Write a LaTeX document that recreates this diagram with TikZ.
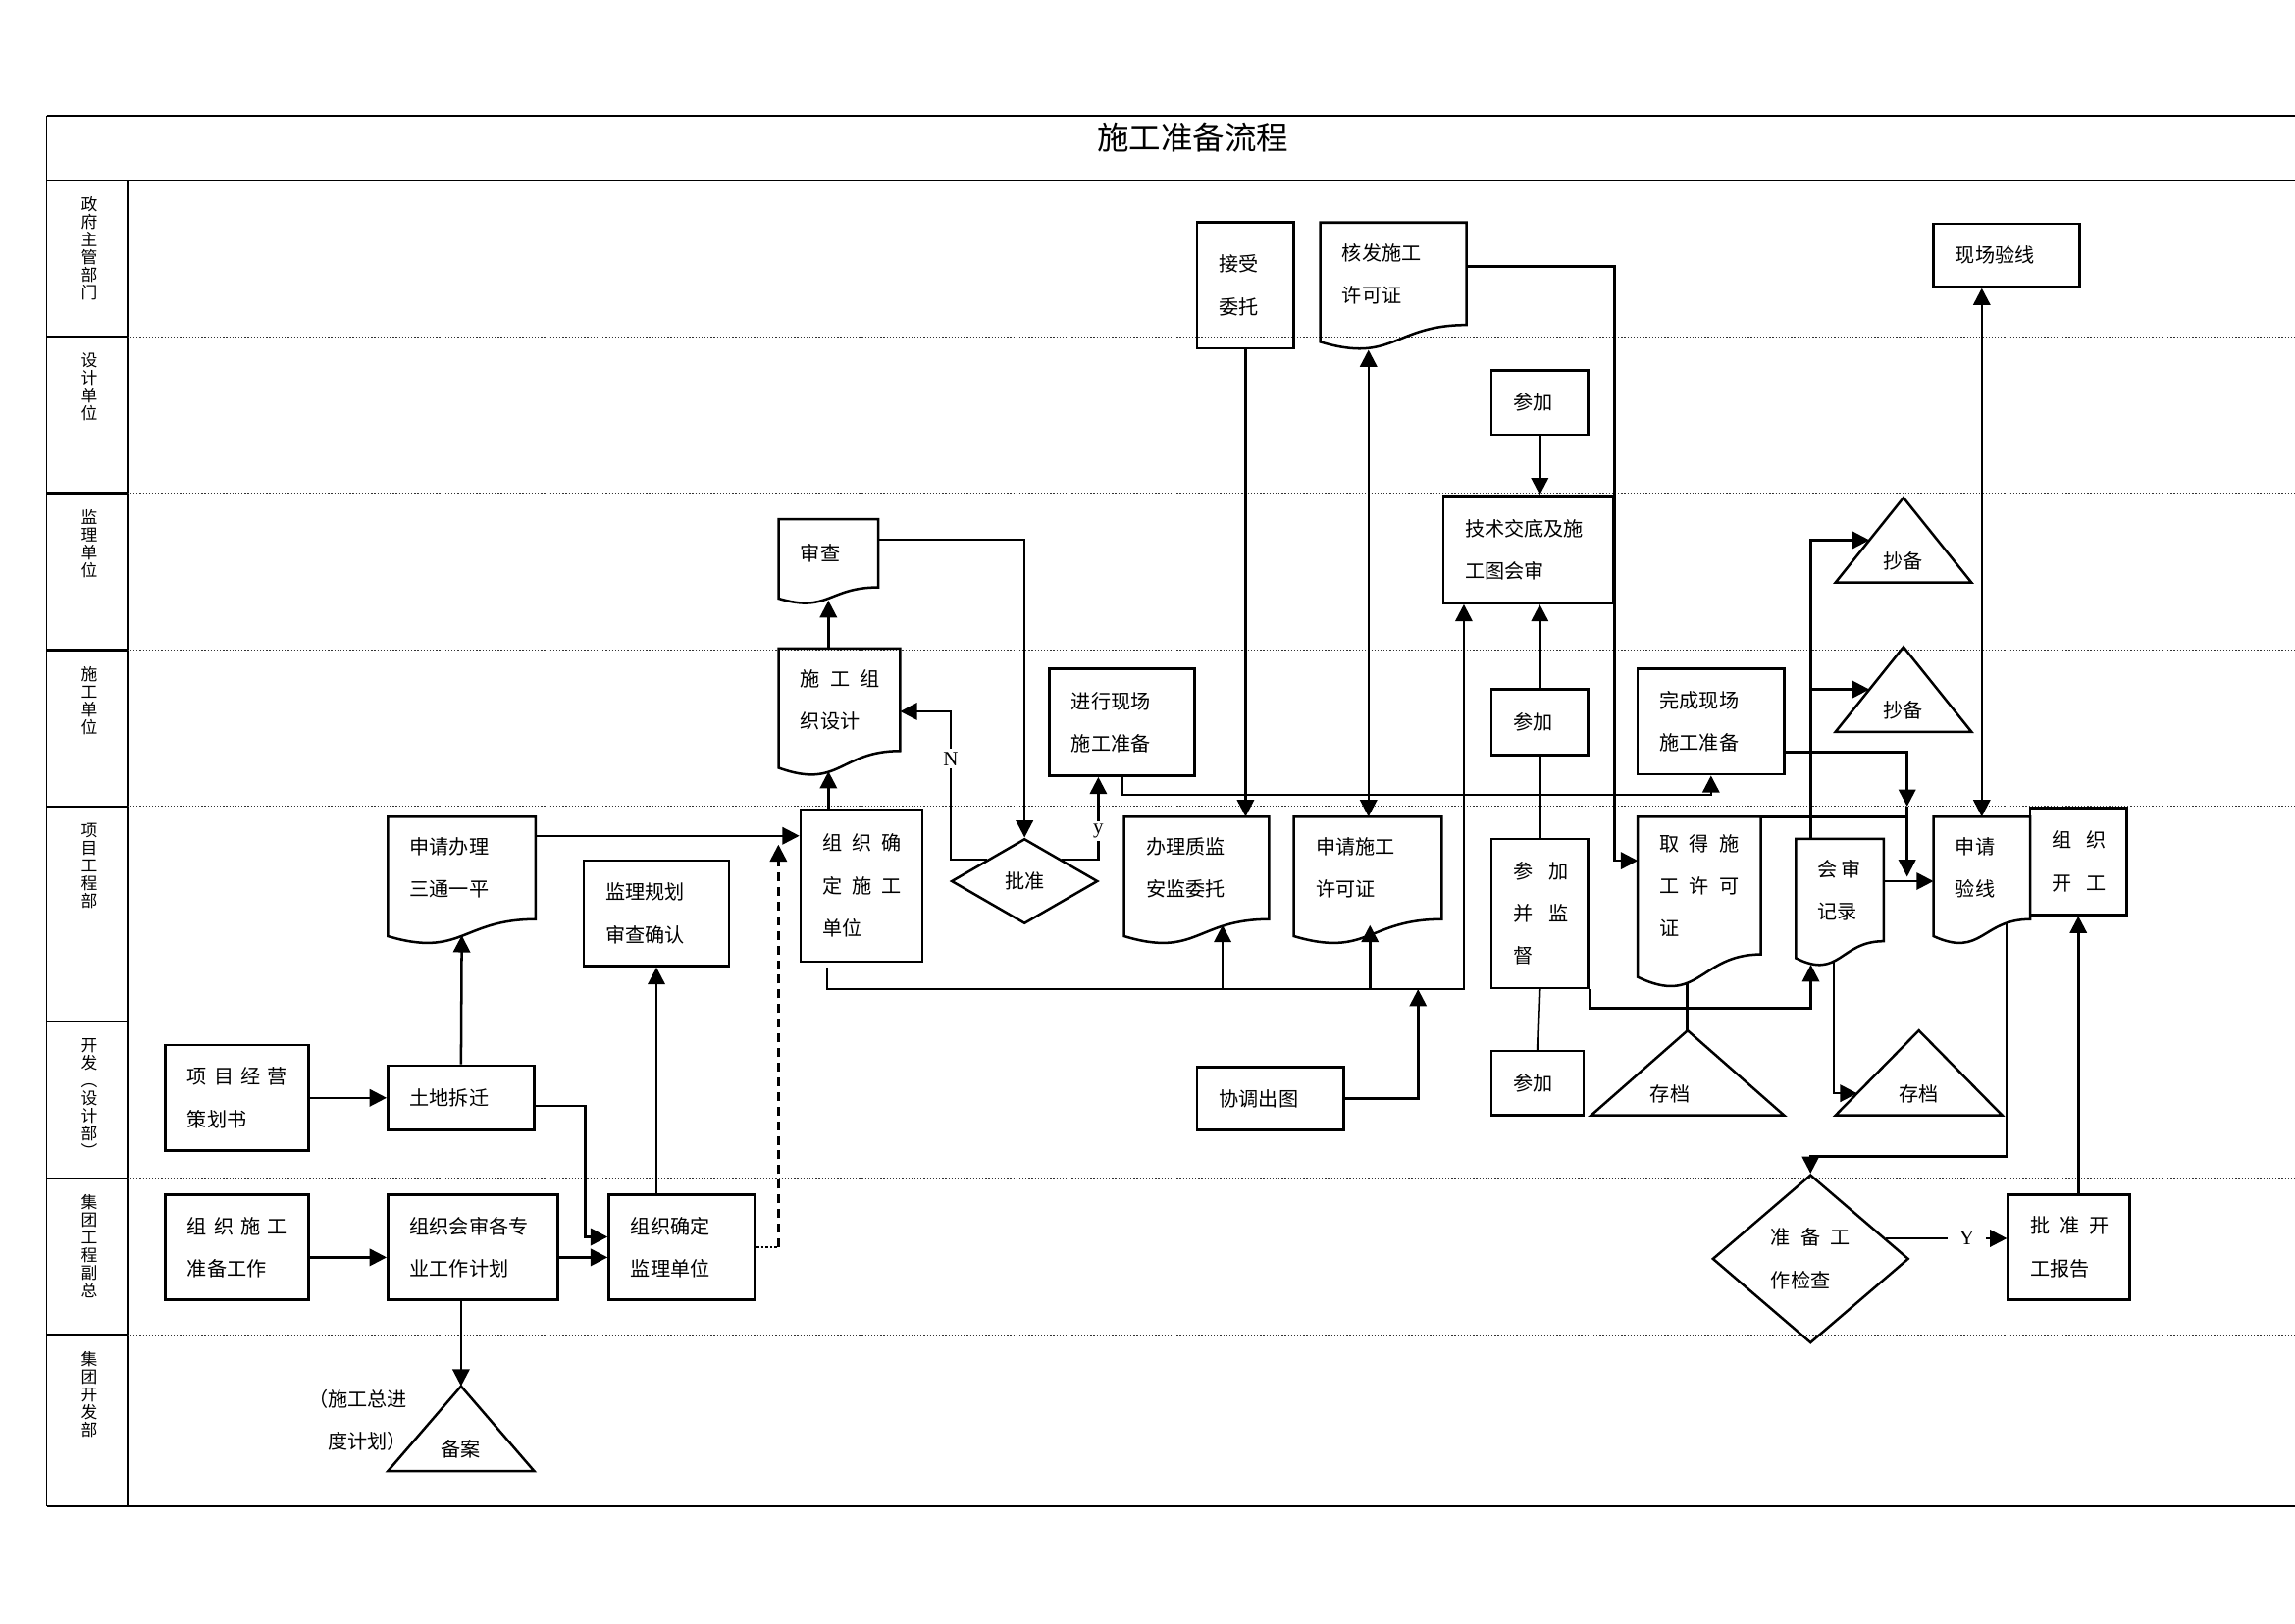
\documentclass[tikz,border=0pt]{standalone}
\usepackage{fontspec}
\setmainfont{Liberation Serif}
\newfontfamily\cjk{Noto Sans CJK SC}
\usetikzlibrary{arrows.meta,calc,shapes.geometric}
\newcommand{\jg}[1][.5em]{\nobreak\hspace{#1}\nobreak}
\newcommand{\drawdoc}[1]{\draw[bd] (#1.south east) .. controls (#1.south) and ($(#1.north)!1.38!(#1.south)$) .. ($(#1.north west)!1.165!(#1.south west)$) -- (#1.north west) -- (#1.north east) -- cycle;}
\newcommand{\drawtri}[1]{\draw[bd] (#1.south west) -- (#1.north) -- (#1.south east) -- cycle;}
\begin{document}
\begin{tikzpicture}[x=0.25mm,y=-0.25mm,>={Triangle[length=2.9mm,width=2.9mm]},
bd/.style={line width=1.2pt},
frm/.style={line width=.7pt},
sep/.style={line width=.5pt,black!80,dash pattern=on .6pt off .9pt},
tfont/.style={font=\cjk\fontsize{9.6}{20.6}\selectfont},
txt/.style={tfont,align=left},
tw/.code={\pgfmathsetlengthmacro\boxtw{#1*0.25mm-7.5mm}\tikzset{text width/.expanded=\boxtw}},
box/.style 2 args={txt,draw,bd,minimum width=#1*0.25mm,minimum height=#2*0.25mm,inner sep=0pt,tw=#1},
doc/.style 2 args={txt,minimum width=#1*0.25mm,minimum height=#2*0.25mm,inner sep=0pt,outer sep=0pt,tw=#1},
dec/.style 2 args={diamond,draw,bd,txt,minimum width=#1*0.25mm,minimum height=#2*0.25mm,inner sep=0pt},
tri/.style 2 args={tfont,minimum width=#1*0.25mm,minimum height=#2*0.25mm,inner sep=0pt,outer sep=0pt,text height=28pt},
lane/.style={font=\cjk\fontsize{8}{8.6}\selectfont,align=center,anchor=north,inner sep=0pt},
lbl/.style={font=\fontsize{10}{11}\selectfont,fill=white,inner sep=1.5pt},
arr/.style={bd,->},
arr2/.style={bd,<->}]
\useasboundingbox (0,0) rectangle (1568,1109);

% frame and lanes
\draw[frm] (32,79) -- (1568,79);
\draw[frm] (32,123) -- (1568,123);
\draw[frm] (32,1029) -- (1568,1029);
\draw[frm] (32,79) -- (32,1029);
\draw[frm] (87,123) -- (87,1029);
\foreach \y in {230,337,444,551,698,805,912} {
  \draw[bd] (32,\y) -- (87,\y);
  \draw[sep] (87,\y) -- (1568,\y);
}
\node[font=\cjk\fontsize{15.5}{18}\selectfont] (title) at (815,94) {施工准备流程};
\node[lane] (l1) at (61,134) {政\\府\\主\\管\\部\\门};
\node[lane] (l2) at (61,241) {设\\计\\单\\位};
\node[lane] (l3) at (61,348) {监\\理\\单\\位};
\node[lane] (l4) at (61,455) {施\\工\\单\\位};
\node[lane] (l5) at (61,562) {项\\目\\工\\程\\部};
\node[lane] (l6) at (61,709) {开\\发\\︵\\设\\计\\部\\︶};
\node[lane] (l7) at (61,816) {集\\团\\工\\程\\副\\总};
\node[lane] (l8) at (61,923) {集\\团\\开\\发\\部};

% nodes
\node[box={66}{86}] (js) at (851,195) {接受\\委托};
\node[doc={100}{70}] (hf) at (952,187) {核发施工\\许可证};
\node[box={100}{43}] (xc) at (1371,174.5) {现场验线};
\node[box={66}{44}] (cj1) at (1052,275) {参加};
\node[doc={68}{46.5}] (sc) at (566,378) {审查};
\node[box={116}{73}] (jsjd) at (1044,375.5) {技术交底及施\\工图会审};
\node[tri={93}{58}] (cb1) at (1300.5,369) {抄备};
\node[doc={83}{70}] (sz) at (573.5,478) {施\jg 工\jg 组\\织设计};
\node[box={99}{73}] (jx) at (766.5,493.5) {进行现场\\施工准备};
\node[box={66}{45}] (cj2) at (1052,493.5) {参加};
\node[box={100}{72}] (wc) at (1169,493) {完成现场\\施工准备};
\node[tri={93}{58}] (cb2) at (1300.5,471) {抄备};
\node[doc={101}{70}] (st) at (315.5,593) {申请办理\\三通一平};
\node[box={99}{72}] (jg) at (448.5,624) {监理规划\\审查确认};
\node[box={83}{104}] (zs) at (588.5,605) {组\jg 织\jg 确\\定\jg 施\jg 工\\单位};
\node[dec={100}{58}] (pz) at (700,602) {批准};
\node[doc={99}{70}] (bz) at (817.5,593) {办理质监\\安监委托};
\node[doc={101}{70}] (sx) at (934.5,593) {申请施工\\许可证};
\node[box={66}{102}] (jd) at (1052,624) {参\jg[.8em]加\\并\jg[.8em]监\\督};
\node[doc={84}{94}] (qd) at (1161,605) {取\jg 得\jg 施\\工\jg 许\jg 可\\证};
\node[doc={60}{70}] (hs) at (1257,608) {会\jg[.2em]审\\记录};
\node[doc={66}{70}] (yx) at (1354,593) {申请\\验线};
\node[box={66}{73}] (kg) at (1420,588.5) {组\jg[.75em]织\\开\jg[.75em]工};
\node[box={98}{72}] (ch) at (162,750) {项\jg[.35em]目\jg[.35em]经\jg[.35em]营\\策划书};
\node[box={100}{44}] (tc) at (315,750) {土地拆迁};
\node[box={100}{43}] (xt) at (868,750.5) {协调出图};
\node[box={63}{44}] (cj3) at (1050.5,740) {参加};
\node[tri={132}{58}] (cd1) at (1153,733) {存档\hspace*{6mm}};
\node[tri={114}{58}] (cd2) at (1311,733) {存档};
\node[box={98}{72}] (zg) at (162,852) {组\jg[.35em]织\jg[.35em]施\jg[.35em]工\\准备工作};
\node[box={116}{72}] (hsjh) at (323,852) {组织会审各专\\业工作计划};
\node[box={100}{72}] (jl) at (466,852) {组织确定\\监理单位};
\node[dec={134}{115}] (jc) at (1237,860) {准\jg 备\jg 工\\作检查};
\node[box={83}{72}] (pk) at (1413.5,852) {批\jg 准\jg 开\\工报告};
\node[tri={100}{58}] (ba) at (315,976) {备案};
\node[txt,align=right,anchor=east] (bat) at (283,970) {（施工总进\\度计划）};

\drawdoc{hf}\drawdoc{sc}\drawdoc{sz}\drawdoc{st}\drawdoc{bz}
\drawdoc{sx}\drawdoc{qd}\drawdoc{hs}\drawdoc{yx}
\drawtri{cb1}\drawtri{cb2}\drawtri{cd1}\drawtri{cd2}\drawtri{ba}

% connectors
\draw[arr] (ch.east) -- (tc.west);
\draw[arr] (tc.north) -- ($(st.south)+(0,11)$);
\draw[arr] ([yshift=-1.4mm]tc.east) -- ++(34,0) |- ([yshift=1.75mm]jl.west);
\draw[arr] ([yshift=-1.75mm]zg.east) -- ([yshift=-1.75mm]hsjh.west);
\draw[arr] ([yshift=-1.75mm]hsjh.east) -- ([yshift=-1.75mm]jl.west);
\draw[arr] (jg.south |- jl.north) -- (jg.south);
\draw[arr] (ba.north |- hsjh.south) -- (ba.north);
\draw[bd,densely dotted] (jl.east) -- ++(15,0) coordinate (dt);
\draw[arr,dash pattern=on 1.5mm off 1mm] (dt) -- ++(0,-275);
\draw[arr] ($(st.north east)+(0,13)$) coordinate (s1) -- (s1 -| zs.west);
\coordinate (sza) at ($(sz.south west)!0.41!(sz.south east)+(0,14)$);
\draw[arr] (sza |- zs.north) -- (sza);
\coordinate (sca) at ($(sc.south)+(0,9)$);
\draw[arr] (sca |- sz.north) -- (sca);
\draw[arr] ($(sc.north east)+(0,14)$) -| (pz.north);
\draw[arr] (pz.north west) -- ++(-25,0) |- node[lbl,pos=.34] (nn) {N} ($(sz.east)+(0,8)$);
\draw[arr] (pz.north east) -- ++(25,0) coordinate (yy) -- (yy |- jx.south) node[lbl,pos=.34] (ny) {y};
\draw[arr] (jx.south) -- ++(0,12) -| (wc.south);
\draw[arr] (js.south) -- (js.south |- bz.north);
\coordinate (hfa) at ($(hf.south west)!0.33!(hf.south east)+(0,17)$);
\draw[arr2] (hfa) -- (hfa |- sx.north);
\draw[arr] ([yshift=1.25mm]hf.east) -- ++(101,0) |- ([yshift=4.25mm]qd.west);
\draw[arr] (cj1.south) -- (cj1.south |- jsjd.north);
\draw[arr] (cj2.north) -- (cj2.north |- jsjd.south);
\draw[bd] (cj2.south) -- (jd.north);
\draw[bd] (jd.south) -- (cj3.north);
\draw[arr] ($(zs.south west)+(19,3)$) -- ++(0,15) coordinate (b0) -| ($(jsjd.south west)+(15,0)$);
\coordinate (bza) at ($(bz.south west)!0.68!(bz.south east)+(0,4)$);
\draw[arr] (b0 -| bza) -- (bza);
\coordinate (sxa) at ($(sx.south west)!0.515!(sx.south east)+(0,4)$);
\draw[arr] (b0 -| sxa) -- (sxa);
\draw[arr] (xt.east) -- ++(50,0) coordinate (xq) -- (xq |- b0);
\coordinate (hv) at ($(hs.north west)+(10,0)$);
\coordinate (cb1e) at ($(cb1.north)!0.5!(cb1.south west)$);
\coordinate (cb2e) at ($(cb2.north)!0.5!(cb2.south west)$);
\draw[arr] (hv) |- (cb1e);
\draw[arr] (hv |- cb2e) -- (cb2e);
\coordinate (qdw) at ($(qd.south west)!0.4!(qd.south east)+(0,19)$);
\draw[bd] (qdw) -- (qdw |- cd1.north);
\draw[arr] (jd.south east) -- ++(0,13) -| ($(hs.south west)!0.17!(hs.south east)+(0,16)$);
\coordinate (hsb) at ($(hs.south west)!0.43!(hs.south east)+(0,14)$);
\draw[arr] (hsb) |- ($(cd2.north)!0.74!(cd2.south west)$);
\draw[arr] ($(hs.east)+(0,-6)$) coordinate (hq) -- (hq -| yx.west);
\coordinate (jn) at ($(hq)+(16,0)$);
\draw[arr] ([yshift=-5.25mm]wc.east) -| ($(jn)+(0,-51)$);
\draw[arr] ($(jn)+(0,-51)$) -- ($(jn)+(0,-3)$);
\draw[bd] (qd.north east) -- (qd.north east -| jn);
\coordinate (yxb) at ($(yx.south west)!0.76!(yx.south east)+(0,3)$);
\draw[arr] (yxb) -- ++(0,159) -| (jc.north);
\coordinate (jce) at ($(jc.east)!0.24!(jc.north)$);
\draw[arr] (jce) -- (jce -| pk.west) node[lbl,pos=.67,inner xsep=2mm] (yl) {Y};
\draw[arr] (kg.south |- pk.north) -- (kg.south);
\draw[arr2] (xc.south -| yx.north) -- (yx.north);
\end{tikzpicture}
\end{document}
